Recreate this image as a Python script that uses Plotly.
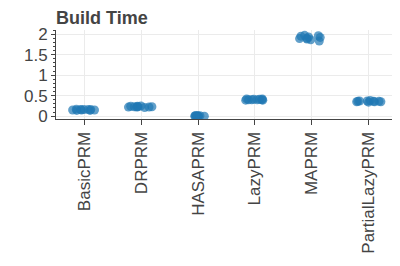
import plotly.graph_objects as go

categories = ["BasicPRM", "DRPRM", "HASAPRM", "LazyPRM", "MAPRM", "PartialLazyPRM"]
values = {
    "BasicPRM": [0.15, 0.16, 0.14, 0.16, 0.15, 0.17, 0.15, 0.16, 0.14, 0.16],
    "DRPRM": [0.21, 0.23, 0.24, 0.22, 0.23, 0.22, 0.24, 0.23, 0.25, 0.22],
    "HASAPRM": [0.0, 0.01, 0.0, 0.01, 0.0, 0.0, 0.01, 0.0, 0.01, 0.0],
    "LazyPRM": [0.39, 0.41, 0.40, 0.42, 0.40, 0.39, 0.41, 0.40, 0.42, 0.40],
    "MAPRM": [1.83, 1.88, 1.97, 1.92, 1.86, 1.90, 1.95, 1.93, 1.89, 1.96],
    "PartialLazyPRM": [0.35, 0.36, 0.34, 0.37, 0.36, 0.35, 0.37, 0.36, 0.35, 0.38],
}
title_text = "Build Time"
ytick_vals = [0, 0.5, 1, 1.5, 2]
ytick_text = ["0", "0.5", "1", "1.5", "2"]

xs, ys = [], []
for c in categories:
    for v in values[c]:
        xs.append(c)
        ys.append(v)

fig = go.Figure()
fig.add_trace(go.Box(
    x=xs, y=ys,
    boxpoints="all", jitter=1.0, pointpos=0,
    fillcolor="rgba(0,0,0,0)", line=dict(width=0, color="rgba(0,0,0,0)"),
    marker=dict(color="#1f77b4", size=9, opacity=0.7),
    hoveron="points", showlegend=False,
))

W, H = 392, 258  # page body has an 8px margin
font = "Liberation Sans, Arial, sans-serif"
fig.update_layout(
    width=W, height=H,
    margin=dict(l=48, r=3, t=22, b=147, autoexpand=False),
    paper_bgcolor="white", plot_bgcolor="white",
    font=dict(family=font, size=17, color="#444"),
    title=dict(text="<b>" + title_text + "</b>", x=0, xref="paper", xanchor="left",
               y=1 - 10 / H, yref="container", yanchor="middle",
               font=dict(size=18, color="#444")),
    showlegend=False,
)
fig.update_xaxes(
    type="category", categoryorder="array", categoryarray=categories,
    tickangle=-90, ticks="outside", ticklen=5, tickcolor="#444",
    showgrid=True, gridcolor="#ebebeb", gridwidth=1,
    showline=True, linecolor="#444", linewidth=1, automargin=False,
    tickfont=dict(size=17, color="#444"),
)
fig.update_yaxes(
    range=[-0.07, 2.1], tickvals=ytick_vals, ticktext=ytick_text,
    ticks="outside", ticklen=4, tickcolor="#444",
    minor=dict(ticks="outside", ticklen=2, dtick=0.1, tickcolor="#444", showgrid=False),
    showgrid=True, gridcolor="#ebebeb", gridwidth=1, zeroline=False,
    showline=True, linecolor="#444", linewidth=1, automargin=False,
    tickfont=dict(size=17, color="#444"),
)

fig.write_html("out.html")
